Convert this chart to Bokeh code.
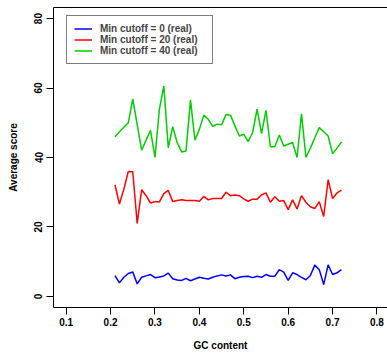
from bokeh.plotting import figure
from bokeh.models import Range1d, LinearAxis, FixedTicker, Legend, LegendItem
from bokeh.embed import file_html
from bokeh.resources import INLINE

gc_content = [0.21, 0.22, 0.23, 0.24, 0.25, 0.26, 0.27, 0.28, 0.29, 0.30,
              0.31, 0.32, 0.33, 0.34, 0.35, 0.36, 0.37, 0.38, 0.39, 0.40,
              0.41, 0.42, 0.43, 0.44, 0.45, 0.46, 0.47, 0.48, 0.49, 0.50,
              0.51, 0.52, 0.53, 0.54, 0.55, 0.56, 0.57, 0.58, 0.59, 0.60,
              0.61, 0.62, 0.63, 0.64, 0.65, 0.66, 0.67, 0.68, 0.69, 0.70,
              0.71, 0.72]

cutoff_0 = [6.0, 3.9, 5.5, 6.6, 7.0, 3.6, 5.5, 5.9, 6.3, 5.4,
            5.6, 5.9, 6.7, 5.1, 4.7, 4.6, 5.2, 4.5, 5.0, 5.5,
            5.2, 5.0, 5.5, 5.9, 6.2, 5.9, 6.2, 5.1, 5.5, 5.7,
            5.8, 5.4, 5.8, 5.5, 6.3, 5.8, 5.8, 7.7, 7.0, 4.6,
            6.8, 6.3, 5.5, 4.8, 6.0, 9.0, 7.7, 3.4, 9.1, 6.3,
            6.8, 7.7]

cutoff_20 = [32.1, 26.6, 30.9, 36.0, 35.9, 21.0, 30.7, 29.0, 26.9, 27.3,
             27.2, 29.6, 30.5, 27.3, 27.6, 27.8, 27.6, 27.6, 27.6, 27.4,
             28.8, 27.8, 28.2, 28.2, 28.2, 30.0, 29.0, 29.2, 29.0, 28.1,
             27.4, 28.0, 28.0, 29.2, 29.8, 27.1, 28.7, 27.4, 27.6, 25.0,
             27.8, 25.2, 29.0, 27.1, 25.8, 25.3, 27.3, 23.0, 33.6, 28.2,
             29.8, 30.6]

cutoff_40 = [46.0, 47.4, 48.7, 50.0, 56.9, 49.5, 42.1, 45.0, 47.8, 40.0,
             53.9, 60.6, 42.8, 48.9, 44.3, 41.6, 41.9, 56.6, 45.0, 48.1,
             52.2, 51.0, 49.0, 49.6, 49.4, 52.4, 52.2, 49.1, 46.2, 46.7,
             44.6, 47.2, 53.9, 46.9, 53.6, 43.1, 43.1, 46.5, 43.3, 43.8,
             44.3, 40.0, 52.6, 40.0, 42.7, 45.7, 48.6, 47.4, 46.2, 41.1,
             42.7, 44.5]

series_labels = ["Min cutoff = 0 (real)", "Min cutoff = 20 (real)", "Min cutoff = 40 (real)"]
series_colors = ["#0000FF", "#FF0000", "#00CD00"]

x_ticks = [0.1, 0.2, 0.3, 0.4, 0.5, 0.6, 0.7, 0.8]
x_tick_labels = ["0.1", "0.2", "0.3", "0.4", "0.5", "0.6", "0.7", "0.8"]
y_ticks = [0, 20, 40, 60, 80]
y_tick_labels = ["0", "20", "40", "60", "80"]

FONT = "Liberation Sans"

p = figure(width=387, height=353, output_backend="svg", toolbar_location=None,
           x_range=Range1d(0.0715, 0.8237), y_range=Range1d(-3.2, 83.2),
           min_border_left=53, min_border_right=0, min_border_top=7,
           min_border_bottom=46,
           x_axis_label="GC content", y_axis_label="Average score")
p.outline_line_color = None
p.grid.visible = False
p.background_fill_color = "white"

p.xaxis.ticker = FixedTicker(ticks=x_ticks)
p.xaxis.major_label_overrides = {t: l for t, l in zip(x_ticks, x_tick_labels)}
p.yaxis.ticker = FixedTicker(ticks=y_ticks)
p.yaxis.major_label_overrides = {t: l for t, l in zip(y_ticks, y_tick_labels)}
p.yaxis.major_label_orientation = "vertical"

for ax in (p.xaxis[0], p.yaxis[0]):
    ax.axis_line_color = "black"
    ax.axis_line_width = 1
    ax.major_tick_line_color = "black"
    ax.major_tick_out = 7
    ax.major_tick_in = 0
    ax.minor_tick_out = 0
    ax.minor_tick_in = 0
    ax.major_label_text_font = FONT
    ax.major_label_text_font_style = "bold"
    ax.major_label_text_font_size = "10px"
    ax.major_label_text_color = "black"
    ax.major_label_standoff = 4
    ax.axis_label_text_font = FONT
    ax.axis_label_text_font_style = "bold"
    ax.axis_label_text_font_size = "10px"
    ax.axis_label_text_color = "black"
p.xaxis.major_label_standoff = 3
p.xaxis.axis_label_standoff = 11
p.yaxis.axis_label_standoff = 13

top_axis = LinearAxis(ticker=FixedTicker(ticks=[]), major_label_text_font_size="0px",
                      major_tick_out=0, major_tick_in=0, minor_tick_out=0, minor_tick_in=0,
                      axis_line_color="black", axis_line_width=1)
p.add_layout(top_axis, "above")

renderers = []
for ys, c in zip([cutoff_0, cutoff_20, cutoff_40], series_colors):
    r = p.line(gc_content, ys, line_color=c, line_width=1.5)
    renderers.append(r)

legend = Legend(items=[LegendItem(label=l, renderers=[r]) for l, r in zip(series_labels, renderers)],
                location=(13, 243))
legend.border_line_color = "black"
legend.border_line_width = 1
legend.background_fill_color = "white"
legend.background_fill_alpha = 1
legend.label_text_font = FONT
legend.label_text_font_style = "bold"
legend.label_text_font_size = "10px"
legend.glyph_width = 18
legend.glyph_height = 11
legend.label_height = 11
legend.label_width = 105
legend.label_standoff = 8
legend.padding = 7
legend.spacing = 0
legend.margin = 0
p.add_layout(legend)

open("out.html", "w").write(file_html(p, INLINE))
